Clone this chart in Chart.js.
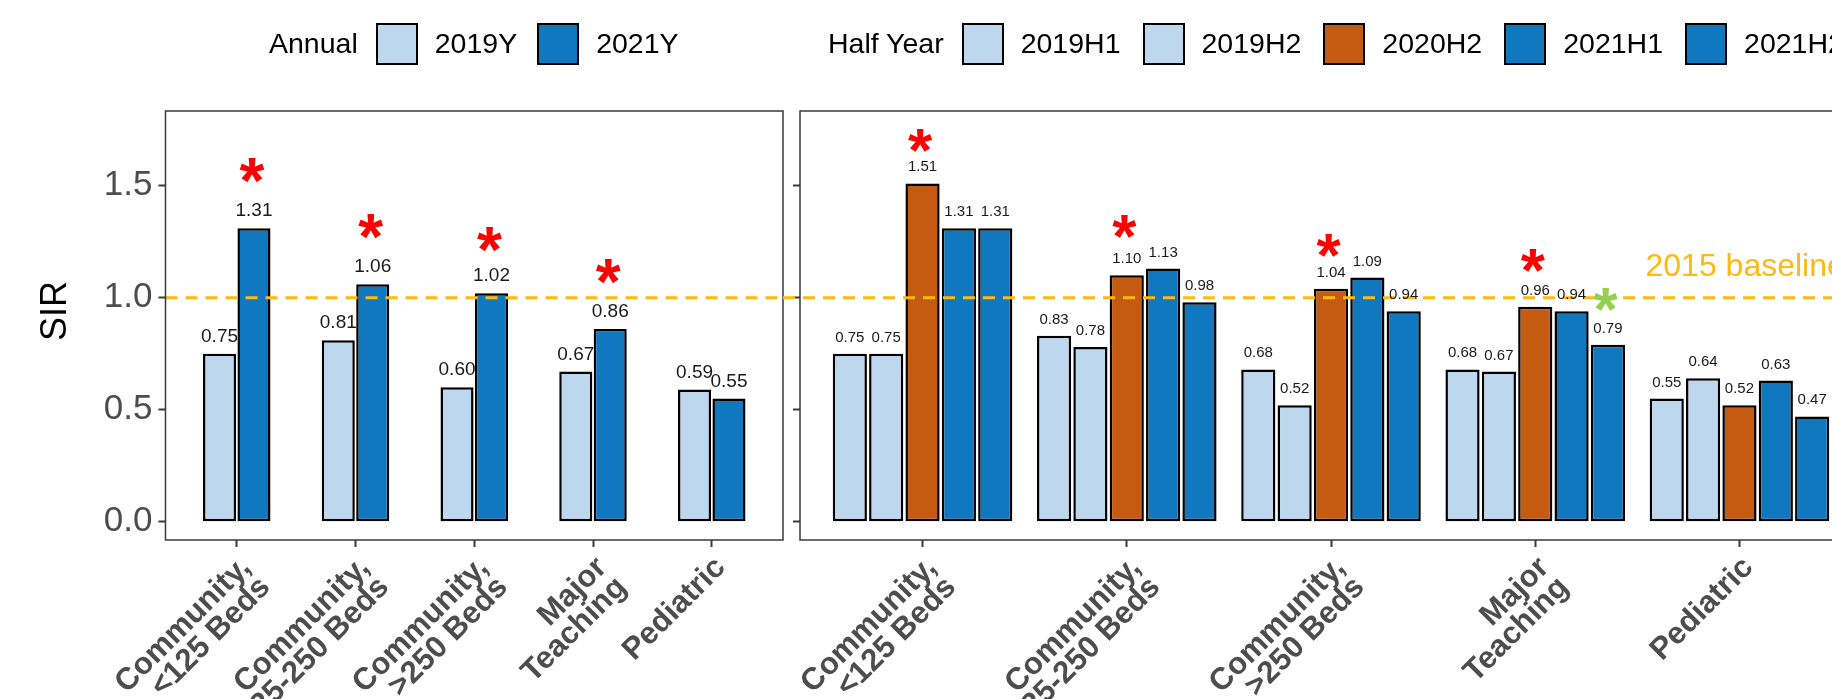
<!DOCTYPE html>
<html>
<head>
<meta charset="utf-8">
<title>SIR by hospital type</title>
<script src="https://cdn.jsdelivr.net/npm/chart.js@4.4.1/dist/chart.umd.min.js"></script>
<style>
  html, body { margin: 0; padding: 0; background: #fff; }
  #fig { position: relative; width: 1832px; height: 699px; overflow: hidden; background: #fff;
         font-family: "Liberation Sans", Arial, Helvetica, sans-serif; }
  #fig canvas { position: absolute; top: 0; }
  .legend { position: absolute; top: 22px; height: 43px; display: flex; align-items: center;
            font-size: 28.5px; color: #000; white-space: nowrap; }
  .legend .ttl { margin-right: 18px; }
  .legend .key { width: 38px; height: 38px; border: 2.5px solid #000; margin-right: 17px; }
  .legend .lab { margin-right: 20px; }
  #legHalf .lab { margin-right: 22px; }
</style>
</head>
<body>
<div id="fig">
  <canvas id="annual" width="800" height="760" style="left:0px;width:800px;height:760px"></canvas>
  <canvas id="half" width="1200" height="760" style="left:700px;width:1200px;height:760px"></canvas>
  <div class="legend" id="legAnnual" style="left:269px"></div>
  <div class="legend" id="legHalf" style="left:828px"></div>
</div>
<script>
// ---- data ----
const categories = [
  ['Community,', '<125 Beds'],
  ['Community,', '125-250 Beds'],
  ['Community,', '>250 Beds'],
  ['Major', 'Teaching'],
  ['Pediatric']
];
const yTicks = [0, 0.5, 1.0, 1.5];
const yTickLabels = ['0.0', '0.5', '1.0', '1.5'];

const annualSeries = ['2019Y', '2021Y'];
const annual2019Y = [0.75, 0.81, 0.60, 0.67, 0.59];
const annual2021Y = [1.31, 1.06, 1.02, 0.86, 0.55];

const halfSeries = ['2019H1', '2019H2', '2020H2', '2021H1', '2021H2'];
const half2019H1 = [0.75, 0.83, 0.68, 0.68, 0.55];
const half2019H2 = [0.75, 0.78, 0.52, 0.67, 0.64];
const half2020H2 = [1.51, 1.10, 1.04, 0.96, 0.52];
const half2021H1 = [1.31, 1.13, 1.09, 0.94, 0.63];
const half2021H2 = [1.31, 0.98, 0.94, 0.79, 0.47];

// significance markers: height (SIR units) of each asterisk, null = none
const annualStar2021Y = [1.57, 1.317, 1.26, 1.116, null];
const halfStar2020H2 = [1.70, 1.32, 1.235, 1.168, null];
const halfStar2021H2 = [null, null, null, 0.99, null];

const baselineValue = 1.0;
const baselineText = '2015 baseline';
const yTitle = 'SIR';

// ---- styling ----
const FONT = '"Liberation Sans", Arial, Helvetica, sans-serif';
const LIGHT = '#BDD7EE', BLUE = '#0F78BF', ORANGE = '#C55A11';
const GOLD = '#FFB90F', RED = '#FF0000', GREEN = '#92D050';
const AXIS = '#3a3a3a', TEXT = '#4d4d4d';
const seriesColor = { '2019Y': LIGHT, '2021Y': BLUE, '2019H1': LIGHT, '2019H2': LIGHT,
                      '2020H2': ORANGE, '2021H1': BLUE, '2021H2': BLUE };

Chart.defaults.font.family = FONT;

// y range and panel geometry
const Y_MIN = -0.0817, Y_MAX = 1.8335;
const PANEL_TOP = 111, PANEL_BOTTOM = 540, CANVAS_H = 760;

function buildLegend(el, title, names) {
  const t = document.createElement('span'); t.className = 'ttl'; t.textContent = title; el.appendChild(t);
  names.forEach(n => {
    const k = document.createElement('span'); k.className = 'key'; k.style.background = seriesColor[n]; el.appendChild(k);
    const l = document.createElement('span'); l.className = 'lab'; l.textContent = n; el.appendChild(l);
  });
}
buildLegend(document.getElementById('legAnnual'), 'Annual', annualSeries);
buildLegend(document.getElementById('legHalf'), 'Half Year', halfSeries);

// panel decorations: border, 2015 baseline, value labels, asterisks, axis title
const panelPlugin = {
  id: 'panel',
  afterDatasetsDraw(chart, args, opts) {
    const { ctx, chartArea: a, scales: { x, y } } = chart;
    ctx.save();
    // dashed baseline
    const yb = y.getPixelForValue(baselineValue);
    ctx.strokeStyle = GOLD; ctx.lineWidth = 3; ctx.setLineDash([12, 8]);
    ctx.beginPath(); ctx.moveTo(a.left + opts.lineFrom, yb);
    ctx.lineTo(opts.lineTo === null ? chart.width : a.right + opts.lineTo, yb); ctx.stroke();
    ctx.setLineDash([]);
    // value labels
    ctx.fillStyle = '#1a1a1a'; ctx.textAlign = 'center'; ctx.textBaseline = 'alphabetic';
    ctx.font = opts.labelSize + 'px ' + FONT;
    chart.data.datasets.forEach((ds, di) => {
      chart.getDatasetMeta(di).data.forEach((bar, j) => {
        ctx.fillText(ds.data[j].y.toFixed(2), bar.x, bar.y - 12);
      });
    });
    // asterisks, centred on their glyph box
    ctx.font = 'bold ' + opts.starSize + 'px ' + FONT;
    ctx.textAlign = 'left'; ctx.textBaseline = 'alphabetic';
    const m = ctx.measureText('*');
    const dx = (m.actualBoundingBoxLeft - m.actualBoundingBoxRight) / 2;
    const dy = (m.actualBoundingBoxAscent - m.actualBoundingBoxDescent) / 2;
    opts.stars.forEach(s => {
      const meta = chart.getDatasetMeta(s.dataset);
      s.values.forEach((v, j) => {
        if (v === null) return;
        ctx.fillStyle = s.color;
        ctx.fillText('*', meta.data[j].x + dx - 2, y.getPixelForValue(v) + dy);
      });
    });
    // baseline caption
    if (opts.caption) {
      ctx.fillStyle = GOLD; ctx.font = '32px ' + FONT; ctx.textAlign = 'left';
      ctx.fillText(baselineText, x.getPixelForValue(opts.caption.x), y.getPixelForValue(opts.caption.y));
    }
    // y axis title
    if (opts.title) {
      ctx.save();
      ctx.translate(opts.title.x, opts.title.y);
      ctx.rotate(-Math.PI / 2);
      ctx.fillStyle = '#000'; ctx.font = '36px ' + FONT; ctx.textAlign = 'center'; ctx.textBaseline = 'middle';
      ctx.fillText(yTitle, 0, 0);
      ctx.restore();
    }
    // panel border
    ctx.strokeStyle = AXIS; ctx.lineWidth = 1.5;
    ctx.strokeRect(a.left, a.top, a.right - a.left, a.bottom - a.top);
    ctx.restore();
  }
};

function barSet(name, values, catPct, barPct) {
  return {
    label: name,
    data: values.map((v, i) => ({ x: i + 1, y: v })),
    backgroundColor: seriesColor[name],
    borderColor: '#000',
    borderWidth: 2.5,
    borderSkipped: false,
    categoryPercentage: catPct,
    barPercentage: barPct
  };
}

function scalesFor(yAxisWidth, showYLabels) {
  return {
    x: {
      type: 'linear', min: 0.4, max: 5.6, offset: false,
      afterBuildTicks: s => { s.ticks = categories.map((c, i) => ({ value: i + 1 })); },
      afterFit: s => { s.height = CANVAS_H - PANEL_BOTTOM; },
      grid: { display: true, offset: false, drawOnChartArea: false, drawTicks: true, tickLength: 7, tickWidth: 2, tickColor: AXIS },
      border: { display: false },
      ticks: {
        autoSkip: false, minRotation: 45, maxRotation: 45, padding: 6, labelOffset: 9,
        color: TEXT, font: { size: 31, weight: 'bold', lineHeight: 0.9 },
        callback: (v, i) => categories[i]
      }
    },
    y: {
      min: Y_MIN, max: Y_MAX,
      afterBuildTicks: s => { s.ticks = yTicks.map(v => ({ value: v })); },
      afterFit: s => { s.width = yAxisWidth; },
      grid: { display: true, drawOnChartArea: false, drawTicks: true, tickLength: 7, tickWidth: 2, tickColor: AXIS },
      border: { display: false },
      ticks: { display: showYLabels, padding: 6, color: TEXT, font: { size: 35 }, callback: (v, i) => yTickLabels[i] }
    }
  };
}

const common = {
  responsive: false, animation: false, devicePixelRatio: 1, events: [],
  plugins: { legend: { display: false }, tooltip: { enabled: false } }
};

new Chart(document.getElementById('annual'), {
  type: 'bar',
  data: { datasets: [
    barSet('2019Y', annual2019Y, 0.58, 0.96),
    barSet('2021Y', annual2021Y, 0.58, 0.96)
  ] },
  options: Object.assign({}, common, {
    layout: { padding: { left: 0, top: PANEL_TOP, right: 800 - 783, bottom: 0 } },
    scales: scalesFor(165.5, true),
    plugins: Object.assign({}, common.plugins, {
      panel: { lineFrom: 0, lineTo: 0, labelSize: 19, starSize: 64,
               stars: [{ dataset: 1, values: annualStar2021Y, color: RED }], caption: null,
               title: { x: 56, y: 311 } }
    })
  }),
  plugins: [panelPlugin]
});

new Chart(document.getElementById('half'), {
  type: 'bar',
  data: { datasets: [
    barSet('2019H1', half2019H1, 0.89, 0.94),
    barSet('2019H2', half2019H2, 0.89, 0.94),
    barSet('2020H2', half2020H2, 0.89, 0.94),
    barSet('2021H1', half2021H1, 0.89, 0.94),
    barSet('2021H2', half2021H2, 0.89, 0.94)
  ] },
  options: Object.assign({}, common, {
    layout: { padding: { left: 0, top: PANEL_TOP, right: 1200 - 1162, bottom: 0 } },
    scales: scalesFor(100, false),
    plugins: Object.assign({}, common.plugins, {
      panel: { lineFrom: -17, lineTo: null, labelSize: 15, starSize: 62,
               stars: [{ dataset: 2, values: halfStar2020H2, color: RED },
                       { dataset: 4, values: halfStar2021H2, color: GREEN }],
               caption: { x: 4.54, y: 1.097 }, title: null }
    })
  }),
  plugins: [panelPlugin]
});
</script>
</body>
</html>
